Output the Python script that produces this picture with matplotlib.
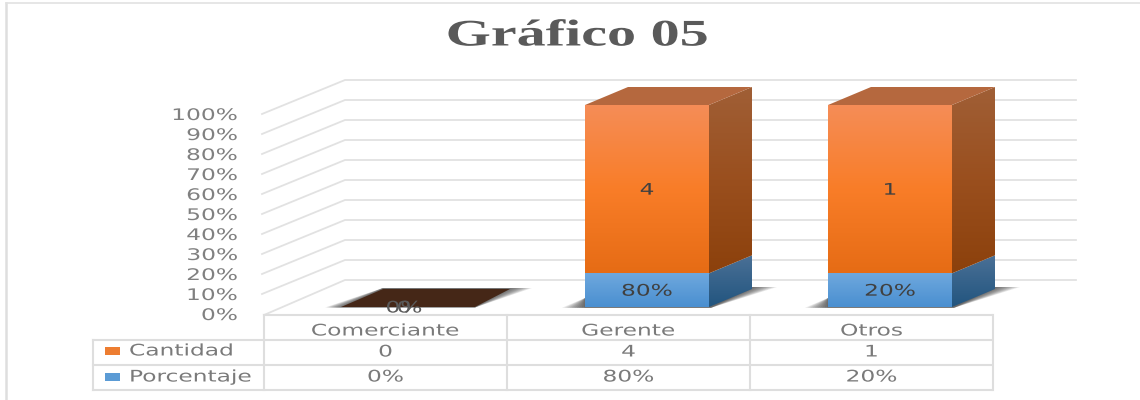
import numpy as np
import matplotlib
matplotlib.use('Agg')
import matplotlib.pyplot as plt
from matplotlib.patches import Polygon, Rectangle
from matplotlib.patheffects import AbstractPathEffect
from matplotlib.transforms import Affine2D

categorias = ['Comerciante', 'Gerente', 'Otros']
cantidad = [0, 4, 1]
porcentaje = [0.0, 0.8, 0.2]
porcentaje_txt = ['0%', '80%', '20%']
ticks = [0, 10, 20, 30, 40, 50, 60, 70, 80, 90, 100]

# layout in image pixels
CAT_W = 243.0
GER_X = 647.0
BASE = 307.0
ESC = 2.02
BAR_W = 124.0
DX = 43.0
DY = 18.0


def X(px):
    return (px - GER_X) / CAT_W + 1


def Y(py):
    return (BASE - py) / ESC


class Estira(AbstractPathEffect):
    # the reference is stretched sideways, do the same to the glyphs
    def __init__(self, cx, sx):
        super().__init__()
        self.cx = cx
        self.sx = sx

    def draw_path(self, renderer, gc, tpath, affine, rgbFace=None):
        t = affine + Affine2D().translate(-self.cx, 0).scale(self.sx, 1).translate(self.cx, 0)
        renderer.draw_path(gc, tpath, t, rgbFace)


fig = plt.figure(figsize=(11.4, 4.0), dpi=100)
ax = fig.add_axes([0, 0, 1, 1])
ax.set_xlim(X(0), X(1140))
ax.set_ylim(Y(400), Y(0))
ax.axis('off')


def texto(px, py, s, color='#7a7a7a', size=11.5, sx=1.46, ha='center', **kw):
    return ax.text(X(px), Y(py + 1), s, color=color, fontsize=size, ha=ha, va='center',
                   path_effects=[Estira(px, sx)], **kw)


def poly(pts, **kw):
    p = Polygon([(X(a), Y(b)) for a, b in pts], closed=True, lw=0, **kw)
    ax.add_patch(p)
    return p


def degradado(pts, colores, zorder):
    # vertical gradient clipped to a polygon
    xs = [p[0] for p in pts]
    ys = [p[1] for p in pts]
    rgb = np.array([matplotlib.colors.to_rgb(c) for c in colores])
    pos = np.linspace(0, 1, len(colores))
    t = np.linspace(0, 1, 64)
    col = np.stack([np.interp(t, pos, rgb[:, k]) for k in range(3)], axis=1)[:, None, :]
    im = ax.imshow(col, aspect='auto', zorder=zorder, origin='upper',
                   extent=[X(min(xs)), X(max(xs)), Y(max(ys)), Y(min(ys))])
    clip = Polygon([(X(p), Y(q)) for p, q in pts], closed=True, transform=ax.transData)
    im.set_clip_path(clip)


# frame: left and top only
ax.plot([X(6.3), X(6.3)], [Y(400), Y(3)], color='#dedede', lw=1.8)
ax.plot([X(5.5), X(1140)], [Y(2.8), Y(2.8)], color='#e2e2e2', lw=1.2)

# title
texto(577, 35, 'Gráfico 05', color='#5a5a5a', size=27, sx=1.55, family='Liberation Serif', fontweight='bold')

# back wall grid and axis labels
for t in ticks:
    yf = 315 - 2 * t
    yb = 280 - 2 * t
    x_ini = 264 if t == 0 else 262
    ax.plot([X(x_ini), X(345), X(1076)], [Y(yf - (t > 0)), Y(yb), Y(yb)], color='#e2e2e2', lw=1.3, zorder=1)
    texto(238, yf - 0.5, f'{t}%', ha='right', color='#808080')

# bars
pasos = np.linspace(0, 1, 10)
for i, (p, c) in enumerate(zip(porcentaje, cantidad)):
    xc = GER_X + (i - 1) * CAT_W
    x0 = xc - BAR_W / 2
    x1 = xc + BAR_W / 2
    total = p + c
    if total == 0:
        # empty stack: only the dark floor with its shadow
        for k in pasos:
            poly([(x0 - 17 + 15 * k, BASE + 0.5), (x1 + 9, BASE + 0.5), (x1 + 66 - 20 * k, BASE - 19), (x0 + 41, BASE - 19)],
                 color='#444444', alpha=0.12, zorder=2)
        poly([(x0 - 1, BASE), (x1 + 9, BASE), (x1 + 44, BASE - 18), (x0 + 41, BASE - 18)], color='#452717', zorder=3)
        texto(xc, BASE, '0', color='#5a5a5a', zorder=6)
        texto(xc, BASE, porcentaje_txt[i], color='#5a5a5a', zorder=6)
        continue
    # shadow on the floor
    for k in pasos:
        poly([(x0 - 23 + 22 * k, BASE + 0.8), (x1 + 2, BASE + 0.8), (x1 + DX + 25 - 24 * k, BASE - 20),
              (x1 + DX, BASE - 20), (x0, BASE - 20), (x0, BASE - 9)],
             color='#2a2a2a', alpha=0.11, zorder=2)
    v0 = 100 * p / total
    ym = BASE - ESC * v0
    yt = BASE - ESC * 100
    degradado([(x0, BASE), (x1, BASE), (x1, ym), (x0, ym)], ['#6ea8de', '#4a8fd0'], 4)
    degradado([(x0, ym), (x1, ym), (x1, yt), (x0, yt)], ['#f58d57', '#f97d28', '#e66c15'], 4)
    degradado([(x1, BASE), (x1 + DX, BASE - DY), (x1 + DX, ym - DY), (x1, ym)], ['#4a7096', '#22557f'], 4)
    degradado([(x1, ym), (x1 + DX, ym - DY), (x1 + DX, yt - DY), (x1, yt)], ['#a05f36', '#9a4f1e', '#8c410c'], 4)
    poly([(x0, yt), (x1, yt), (x1 + DX, yt - DY), (x0 + DX, yt - DY)], color='#b5683e', zorder=4)
    texto(xc, (BASE + ym) / 2, porcentaje_txt[i], color='#404040', zorder=6)
    texto(xc, (ym + yt) / 2, str(c), color='#404040', zorder=6)

# data table
linea = dict(color='#dedede', lw=1.5, zorder=1)
col0 = 264
filas = [315, 339.5, 365, 390]
ax.plot([X(col0), X(col0 + 3 * CAT_W - 1)], [Y(filas[0])] * 2, **linea)
for f in filas[1:]:
    ax.plot([X(93), X(col0 + 3 * CAT_W - 1)], [Y(f)] * 2, **linea)
ax.plot([X(93), X(93)], [Y(339.5), Y(390)], **linea)
for i in range(4):
    ax.plot([X(col0 + i * CAT_W)] * 2, [Y(315), Y(390)], **linea)
for i, nombre in enumerate(categorias):
    cx = col0 + (i + 0.5) * CAT_W
    texto(cx, 330, nombre)
    texto(cx, 351, str(cantidad[i]))
    texto(cx, 376, porcentaje_txt[i])
ax.add_patch(Rectangle((X(105), Y(355)), 15 / CAT_W, 8 / ESC, color='#ed7d31', lw=0))
ax.add_patch(Rectangle((X(105), Y(381)), 15 / CAT_W, 8 / ESC, color='#5b9bd5', lw=0))
texto(129, 350, 'Cantidad', ha='left')
texto(129, 376, 'Porcentaje', ha='left')

fig.savefig('out.png', dpi=100)
